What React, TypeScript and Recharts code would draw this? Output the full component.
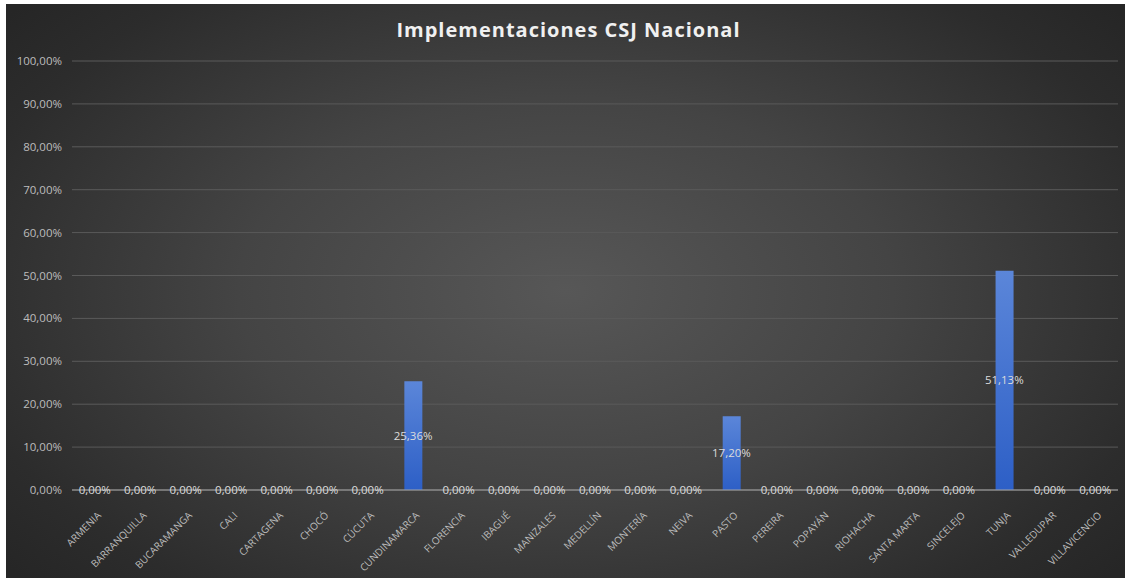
import React from "react";
import { ComposedChart, Bar, Line, XAxis, YAxis, CartesianGrid, LabelList } from "recharts";

const categories = [
  "ARMENIA", "BARRANQUILLA", "BUCARAMANGA", "CALI", "CARTAGENA", "CHOCÓ", "CÚCUTA",
  "CUNDINAMARCA", "FLORENCIA", "IBAGUÉ", "MANIZALES", "MEDELLÍN", "MONTERÍA", "NEIVA",
  "PASTO", "PEREIRA", "POPAYÁN", "RIOHACHA", "SANTA MARTA", "SINCELEJO", "TUNJA",
  "VALLEDUPAR", "VILLAVICENCIO",
];
const values = [
  0, 0, 0, 0, 0, 0, 0,
  0.2536, 0, 0, 0, 0, 0, 0,
  0.172, 0, 0, 0, 0, 0, 0.5113,
  0, 0,
];
const yTicks = [0, 0.1, 0.2, 0.3, 0.4, 0.5, 0.6, 0.7, 0.8, 0.9, 1];
const title = "Implementaciones CSJ Nacional";

// labelPos: the middle of each bar, where the "center" data label sits
const data = categories.map((c, i) => ({ name: c, value: values[i], labelPos: values[i] / 2 }));

const pct = (v: number) => (v * 100).toFixed(2).replace(".", ",") + "%";

const FONT = "'Open Sans', 'DejaVu Sans', sans-serif";

const XTick = (props: any) => {
  const { x, y, payload } = props;
  return (
    <g transform={`translate(${x + 7},${y + 18})`}>
      <text
        x={0}
        y={0}
        textAnchor="end"
        transform="rotate(-45)"
        fill="#bdbdbd"
        fontSize={10}
        fontFamily={FONT}
      >
        {payload.value}
      </text>
    </g>
  );
};

const ValueLabel = (props: any) => {
  const { x, y, index } = props;
  return (
    <text
      x={x}
      y={y}
      dy={4}
      textAnchor="middle"
      fill="#dcdcdc"
      fontSize={11.5}
      fontFamily={FONT}
    >
      {pct(values[index])}
    </text>
  );
};

export default function App() {
  return (
    <div style={{ position: "absolute", left: 0, top: 0, width: 1125, height: 578, background: "#ffffff" }}>
      <div
        style={{
          position: "absolute",
          left: 6,
          top: 4,
          width: 1119,
          height: 574,
          background: "radial-gradient(ellipse 65% 75% at 50% 50%, #575757 0%, #444444 45%, #2c2c2c 85%, #262626 100%)",
        }}
      />
      <div
        style={{
          position: "absolute",
          left: 0,
          top: 16,
          width: 1137,
          textAlign: "center",
          color: "#f0f0f0",
          fontFamily: FONT,
          fontWeight: 700,
          fontSize: 20,
          letterSpacing: 1,
        }}
      >
        {title}
      </div>
      <div style={{ position: "absolute", left: 0, top: 0 }}>
        <ComposedChart
          width={1125}
          height={578}
          data={data}
          margin={{ top: 61, right: 7, bottom: 0, left: 0 }}
          barSize={18}
        >
          <defs>
            <linearGradient id="barGrad" x1="0" y1="0" x2="0" y2="1">
              <stop offset="0%" stopColor="#5b86d9" />
              <stop offset="100%" stopColor="#2d5fc6" />
            </linearGradient>
          </defs>
          <CartesianGrid vertical={false} stroke="#5a5a5a" strokeWidth={1} />
          <XAxis
            dataKey="name"
            interval={0}
            tick={<XTick />}
            tickLine={false}
            axisLine={{ stroke: "#a6a6a6", strokeWidth: 1 }}
            height={88}
          />
          <YAxis
            width={72}
            domain={[0, 1]}
            ticks={yTicks}
            tickFormatter={pct}
            axisLine={false}
            tickLine={false}
            tickSize={0}
            tickMargin={10}
            tick={{ fill: "#bdbdbd", fontSize: 11.5, fontFamily: FONT }}
          />
          <Bar dataKey="value" fill="url(#barGrad)" isAnimationActive={false} />
          <Line
            dataKey="labelPos"
            stroke="none"
            dot={false}
            activeDot={false}
            isAnimationActive={false}
          >
            <LabelList dataKey="labelPos" content={<ValueLabel />} />
          </Line>
        </ComposedChart>
      </div>
    </div>
  );
}
